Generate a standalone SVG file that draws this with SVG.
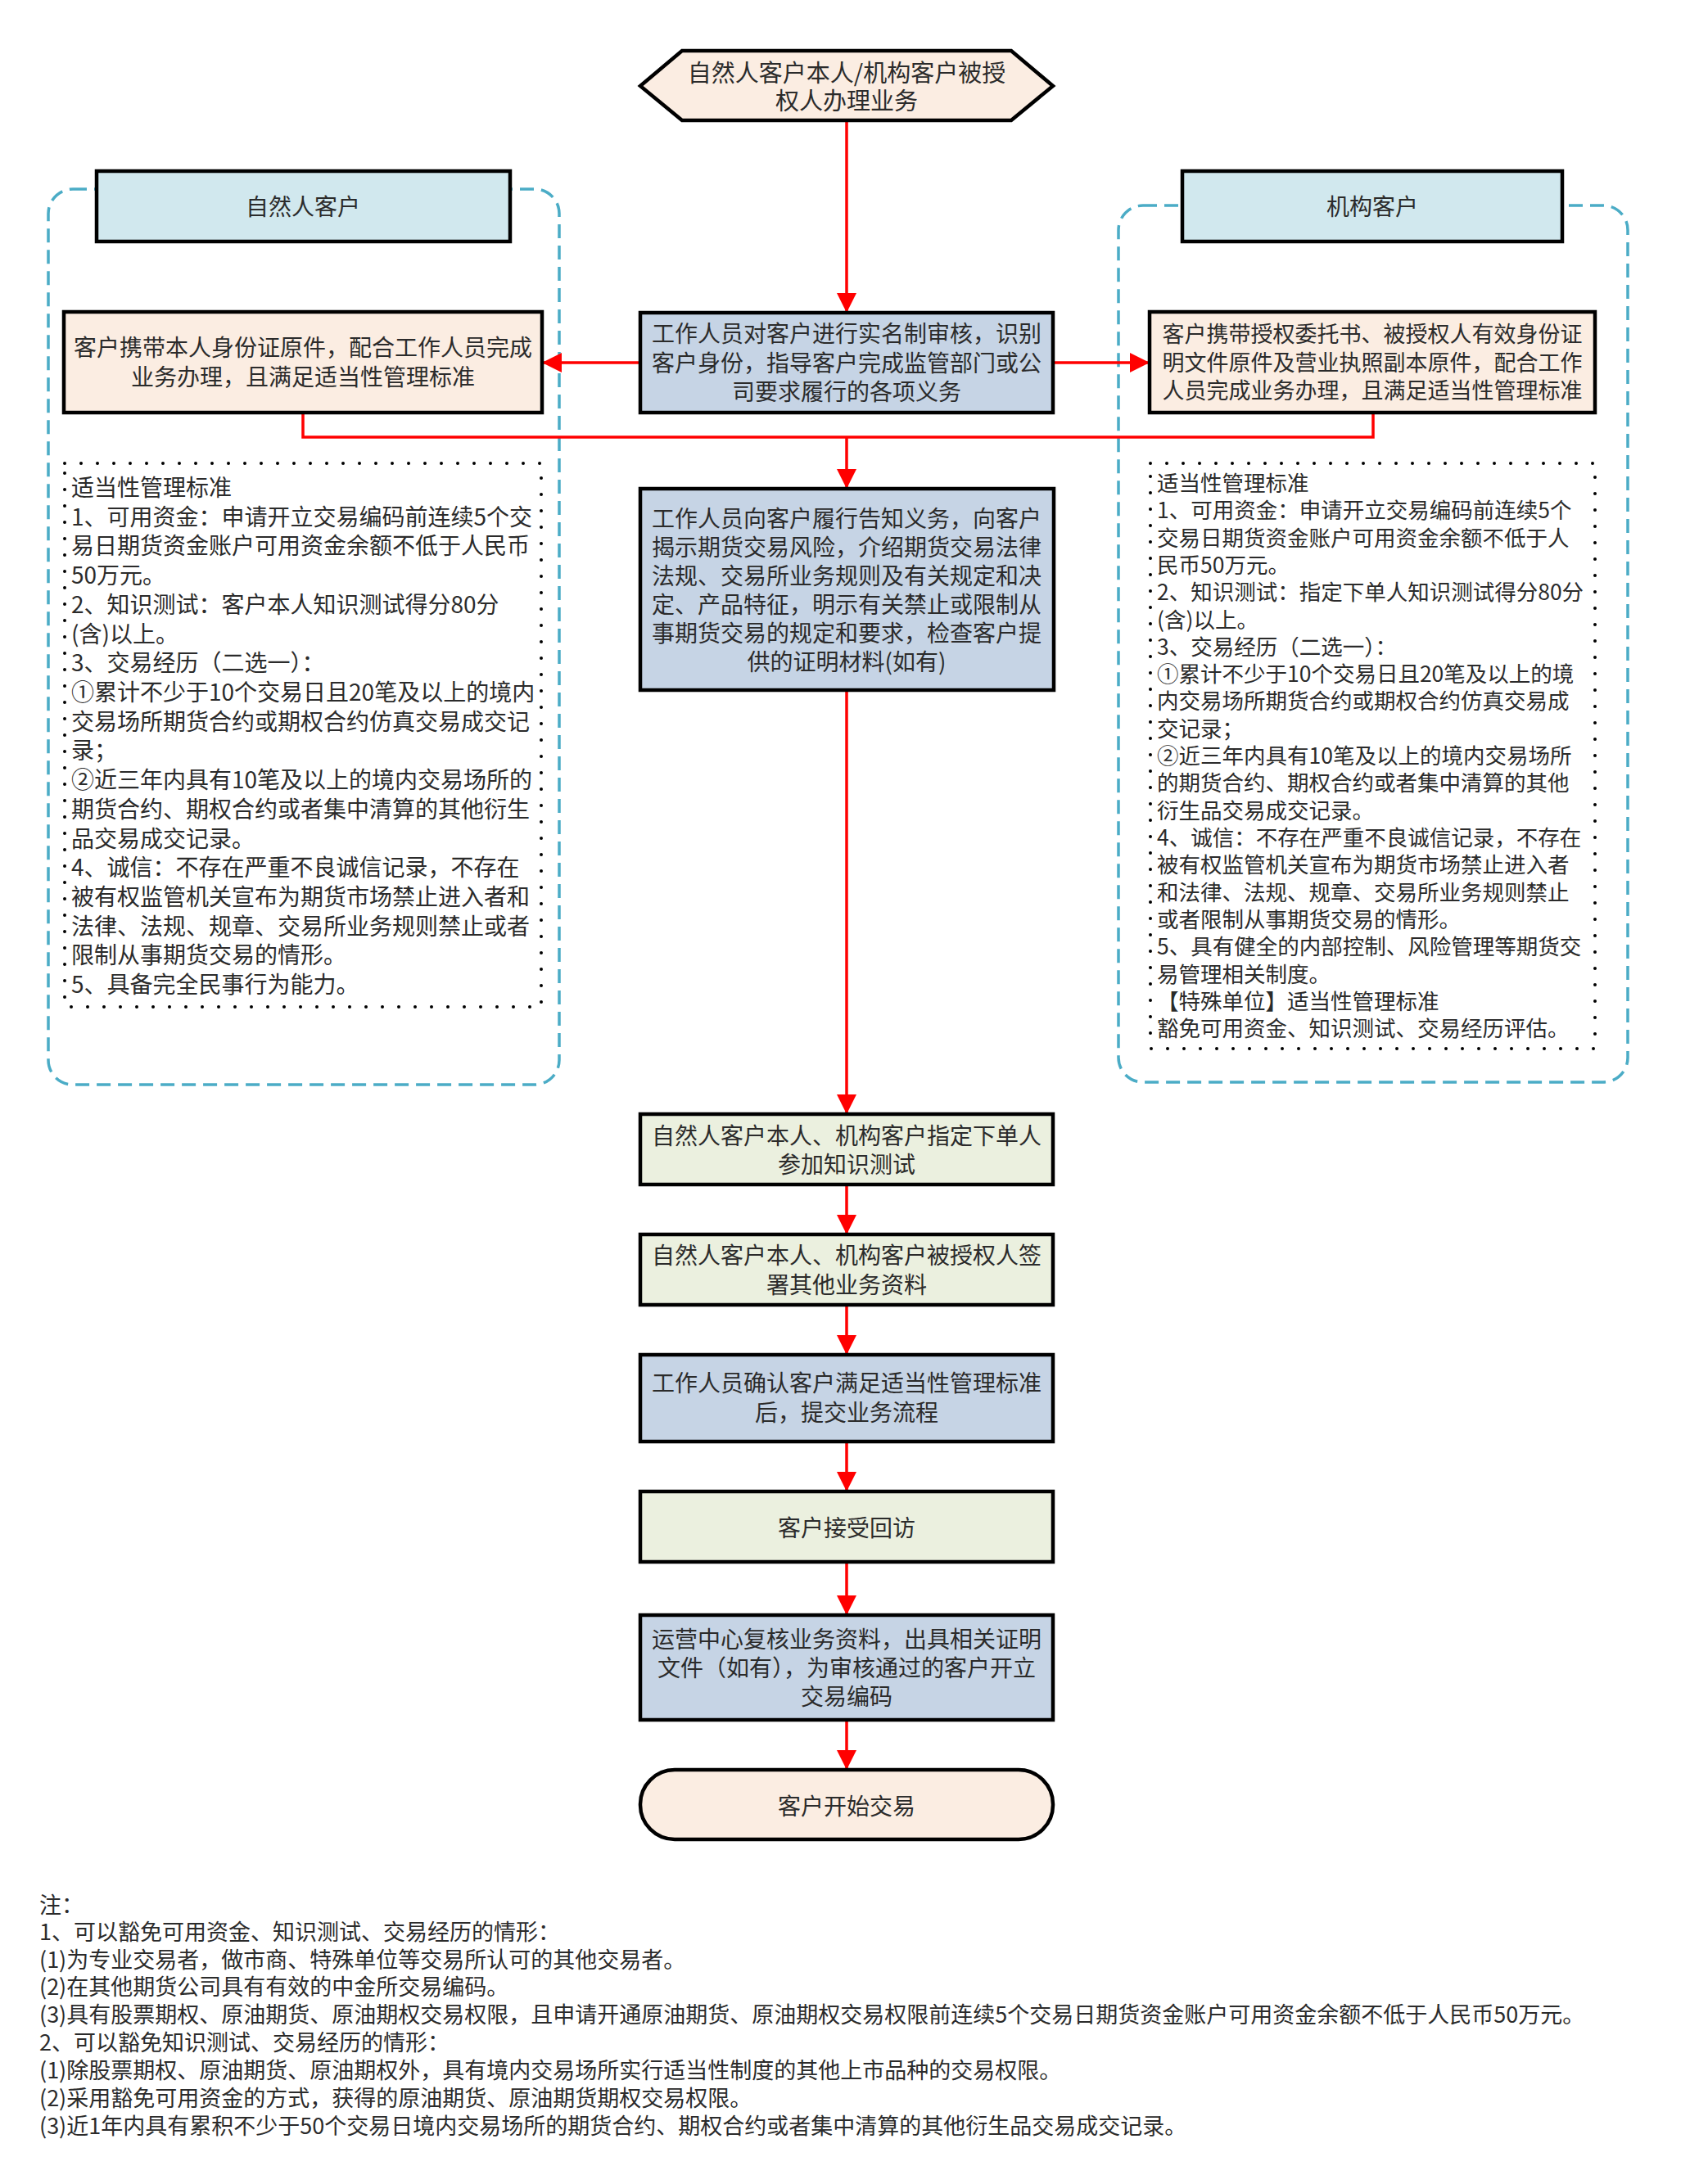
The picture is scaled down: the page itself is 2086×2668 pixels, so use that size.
<svg xmlns="http://www.w3.org/2000/svg" width="2086" height="2668" viewBox="0 0 2086 2668">
<style>
text{font-family:"Noto Sans CJK SC","Noto Sans",sans-serif;fill:#2b2b2b;dominant-baseline:central}
.c{text-anchor:middle;font-size:28px}
.r{font-size:26.5px}
.l{font-size:28px}
.n{font-size:27px}
.box{stroke:#000;stroke-width:4.5}
.peach{fill:#fbede2}
.blue{fill:#c6d4e5}
.lblue{fill:#d1e8ee}
.green{fill:#ebf0df}
.cont{fill:none;stroke:#4bacc6;stroke-width:3.5;stroke-dasharray:17 9}
.dot{fill:none;stroke:#000;stroke-width:4;stroke-linecap:round;stroke-dasharray:0 20}
.con{fill:none;stroke:#ff0000;stroke-width:3.5}
.arr{marker-end:url(#ah)}
</style>
<defs>
<marker id="ah" viewBox="0 0 24 24" refX="24" refY="12" markerWidth="24" markerHeight="24" markerUnits="userSpaceOnUse" orient="auto">
<path d="M0,0 L24,12 L0,24 z" fill="#ff0000"/>
</marker>
</defs>
<rect width="2086" height="2668" fill="#fff"/>

<g id="container-left"><rect class="cont" x="59" y="231" width="624" height="1094" rx="30"/></g>
<g id="container-right"><rect class="cont" x="1366" y="251" width="622" height="1071" rx="30"/></g>

<g id="connectors">
<path class="con arr" d="M1034,147 V382"/>
<path class="con arr" d="M782,443 H662"/>
<path class="con arr" d="M1286,443 H1404"/>
<path class="con" d="M370,504 V534 H1677 V504"/>
<path class="con arr" d="M1034,534 V597"/>
<path class="con arr" d="M1034,843 V1361"/>
<path class="con arr" d="M1034,1447 V1508"/>
<path class="con arr" d="M1034,1594 V1655"/>
<path class="con arr" d="M1034,1761 V1822"/>
<path class="con arr" d="M1034,1908 V1973"/>
<path class="con arr" d="M1034,2101 V2162"/>
</g>

<g id="start">
<polygon class="box peach" points="782,105 833,62 1235,62 1286,105 1235,147 833,147"/>
<text class="c" x="1034" y="87" style="font-size:29px">自然人客户本人/机构客户被授</text>
<text class="c" x="1034" y="121" style="font-size:29px">权人办理业务</text>
</g>

<g id="header-left">
<rect class="box lblue" x="118" y="209" width="505" height="86"/>
<text class="c" x="370" y="251">自然人客户</text>
</g>
<g id="header-right">
<rect class="box lblue" x="1444" y="209" width="464" height="86"/>
<text class="c" x="1676" y="251">机构客户</text>
</g>

<g id="node-left">
<rect class="box peach" x="78" y="381" width="584" height="123"/>
<text class="c" x="370" y="423">客户携带本人身份证原件，配合工作人员完成</text>
<text class="c" x="370" y="459">业务办理，且满足适当性管理标准</text>
</g>

<g id="node-verify">
<rect class="box blue" x="782" y="382" width="504" height="122"/>
<text class="c" x="1034" y="406">工作人员对客户进行实名制审核，识别</text>
<text class="c" x="1034" y="442">客户身份，指导客户完成监管部门或公</text>
<text class="c" x="1034" y="477">司要求履行的各项义务</text>
</g>

<g id="node-right">
<rect class="box peach" x="1404" y="381" width="544" height="123"/>
<text class="c" x="1676" y="406" style="font-size:27px">客户携带授权委托书、被授权人有效身份证</text>
<text class="c" x="1676" y="441" style="font-size:27px">明文件原件及营业执照副本原件，配合工作</text>
<text class="c" x="1676" y="475" style="font-size:27px">人员完成业务办理，且满足适当性管理标准</text>
</g>

<g id="criteria-left">
<rect class="dot" x="79" y="566" width="582" height="664"/>
<text class="l" x="87" y="594">适当性管理标准</text>
<text class="l" x="87" y="630">1、可用资金：申请开立交易编码前连续5个交</text>
<text class="l" x="87" y="665">易日期货资金账户可用资金余额不低于人民币</text>
<text class="l" x="87" y="701">50万元。</text>
<text class="l" x="87" y="737">2、知识测试：客户本人知识测试得分80分</text>
<text class="l" x="87" y="773">(含)以上。</text>
<text class="l" x="87" y="808">3、交易经历（二选一）：</text>
<text class="l" x="87" y="844">①累计不少于10个交易日且20笔及以上的境内</text>
<text class="l" x="87" y="880">交易场所期货合约或期权合约仿真交易成交记</text>
<text class="l" x="87" y="915">录；</text>
<text class="l" x="87" y="951">②近三年内具有10笔及以上的境内交易场所的</text>
<text class="l" x="87" y="987">期货合约、期权合约或者集中清算的其他衍生</text>
<text class="l" x="87" y="1023">品交易成交记录。</text>
<text class="l" x="87" y="1058">4、诚信：不存在严重不良诚信记录，不存在</text>
<text class="l" x="87" y="1094">被有权监管机关宣布为期货市场禁止进入者和</text>
<text class="l" x="87" y="1130">法律、法规、规章、交易所业务规则禁止或者</text>
<text class="l" x="87" y="1165">限制从事期货交易的情形。</text>
<text class="l" x="87" y="1201">5、具备完全民事行为能力。</text>
</g>

<g id="criteria-right">
<rect class="dot" x="1405" y="566" width="543" height="715"/>
<text class="r" x="1413" y="588">适当性管理标准</text>
<text class="r" x="1413" y="621">1、可用资金：申请开立交易编码前连续5个</text>
<text class="r" x="1413" y="655">交易日期货资金账户可用资金余额不低于人</text>
<text class="r" x="1413" y="688">民币50万元。</text>
<text class="r" x="1413" y="721">2、知识测试：指定下单人知识测试得分80分</text>
<text class="r" x="1413" y="755">(含)以上。</text>
<text class="r" x="1413" y="788">3、交易经历（二选一）：</text>
<text class="r" x="1413" y="821">①累计不少于10个交易日且20笔及以上的境</text>
<text class="r" x="1413" y="854">内交易场所期货合约或期权合约仿真交易成</text>
<text class="r" x="1413" y="888">交记录；</text>
<text class="r" x="1413" y="921">②近三年内具有10笔及以上的境内交易场所</text>
<text class="r" x="1413" y="954">的期货合约、期权合约或者集中清算的其他</text>
<text class="r" x="1413" y="988">衍生品交易成交记录。</text>
<text class="r" x="1413" y="1021">4、诚信：不存在严重不良诚信记录，不存在</text>
<text class="r" x="1413" y="1054">被有权监管机关宣布为期货市场禁止进入者</text>
<text class="r" x="1413" y="1088">和法律、法规、规章、交易所业务规则禁止</text>
<text class="r" x="1413" y="1121">或者限制从事期货交易的情形。</text>
<text class="r" x="1413" y="1154">5、具有健全的内部控制、风险管理等期货交</text>
<text class="r" x="1413" y="1188">易管理相关制度。</text>
<text class="r" x="1413" y="1221">【特殊单位】适当性管理标准</text>
<text class="r" x="1413" y="1254">豁免可用资金、知识测试、交易经历评估。</text>
</g>

<g id="node-inform">
<rect class="box blue" x="782" y="597" width="505" height="246"/>
<text class="c" x="1034" y="632">工作人员向客户履行告知义务，向客户</text>
<text class="c" x="1034" y="667">揭示期货交易风险，介绍期货交易法律</text>
<text class="c" x="1034" y="702">法规、交易所业务规则及有关规定和决</text>
<text class="c" x="1034" y="737">定、产品特征，明示有关禁止或限制从</text>
<text class="c" x="1034" y="772">事期货交易的规定和要求，检查客户提</text>
<text class="c" x="1034" y="807">供的证明材料(如有)</text>
</g>

<g id="node-test">
<rect class="box green" x="782" y="1361" width="504" height="86"/>
<text class="c" x="1034" y="1386">自然人客户本人、机构客户指定下单人</text>
<text class="c" x="1034" y="1421">参加知识测试</text>
</g>

<g id="node-sign">
<rect class="box green" x="782" y="1508" width="504" height="86"/>
<text class="c" x="1034" y="1532">自然人客户本人、机构客户被授权人签</text>
<text class="c" x="1034" y="1568">署其他业务资料</text>
</g>

<g id="node-confirm">
<rect class="box blue" x="782" y="1655" width="504" height="106"/>
<text class="c" x="1034" y="1688">工作人员确认客户满足适当性管理标准</text>
<text class="c" x="1034" y="1724">后，提交业务流程</text>
</g>

<g id="node-visit">
<rect class="box green" x="782" y="1822" width="504" height="86"/>
<text class="c" x="1034" y="1865">客户接受回访</text>
</g>

<g id="node-ops">
<rect class="box blue" x="782" y="1973" width="504" height="128"/>
<text class="c" x="1034" y="2001">运营中心复核业务资料，出具相关证明</text>
<text class="c" x="1034" y="2036">文件（如有），为审核通过的客户开立</text>
<text class="c" x="1034" y="2071">交易编码</text>
</g>

<g id="end">
<rect class="box peach" x="782" y="2162" width="504" height="85" rx="42"/>
<text class="c" x="1034" y="2205">客户开始交易</text>
</g>

<g id="notes">
<text class="n" x="48" y="2325">注：</text>
<text class="n" x="48" y="2358">1、可以豁免可用资金、知识测试、交易经历的情形：</text>
<text class="n" x="48" y="2392">(1)为专业交易者，做市商、特殊单位等交易所认可的其他交易者。</text>
<text class="n" x="48" y="2425">(2)在其他期货公司具有有效的中金所交易编码。</text>
<text class="n" x="48" y="2459">(3)具有股票期权、原油期货、原油期权交易权限，且申请开通原油期货、原油期权交易权限前连续5个交易日期货资金账户可用资金余额不低于人民币50万元。</text>
<text class="n" x="48" y="2493">2、可以豁免知识测试、交易经历的情形：</text>
<text class="n" x="48" y="2527">(1)除股票期权、原油期货、原油期权外，具有境内交易场所实行适当性制度的其他上市品种的交易权限。</text>
<text class="n" x="48" y="2561">(2)采用豁免可用资金的方式，获得的原油期货、原油期货期权交易权限。</text>
<text class="n" x="48" y="2595">(3)近1年内具有累积不少于50个交易日境内交易场所的期货合约、期权合约或者集中清算的其他衍生品交易成交记录。</text>
</g>
</svg>
